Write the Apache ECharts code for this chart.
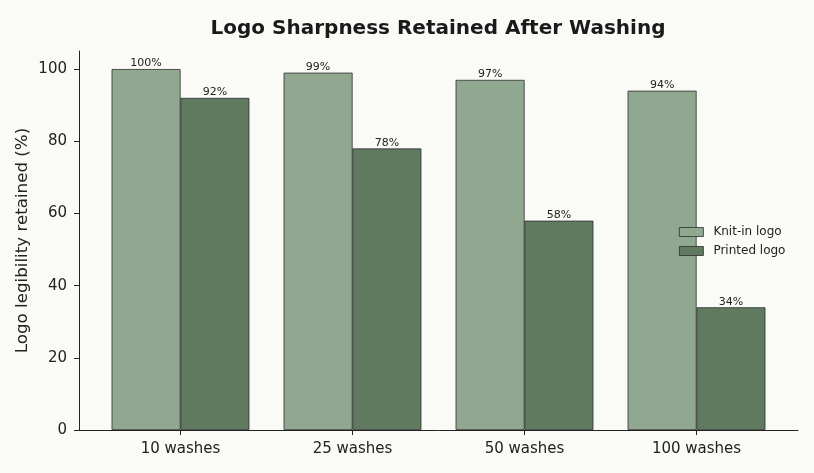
<!DOCTYPE html>
<html>
<head>
<meta charset="utf-8">
<script src="https://cdn.jsdelivr.net/npm/echarts@6/dist/echarts.min.js"></script>
<style>
  html, body { margin: 0; padding: 0; background: #fafaf7; }
  #main { width: 814px; height: 473px; }
</style>
</head>
<body>
<div id="main"></div>
<script>
// data
var categories = ['10 washes', '25 washes', '50 washes', '100 washes'];
var knitIn = [100, 99, 97, 94];
var printed = [92, 78, 58, 34];
var yTicks = [0, 20, 40, 60, 80, 100];

var chart = echarts.init(document.getElementById('main'));
var font = 'DejaVu Sans';

// each group sits at integer x; the two bars sit 0.2 either side
function toPoints(vals, shift) {
    return vals.map(function (v, i) { return [i + shift, v]; });
}

var catIdx = categories.map(function (c, i) { return i; });

function barSeries(name, vals, shift, color) {
    return {
        name: name,
        type: 'bar',
        data: toPoints(vals, shift),
        barWidth: 69,
        barGap: '-100%',
        itemStyle: { color: color, borderColor: '#2e2e2e', borderWidth: 0.8 },
        label: {
            show: true,
            position: 'top',
            distance: 0,
            fontFamily: font,
            fontSize: 11,
            color: '#222',
            formatter: function (p) { return p.value[1] + '%'; }
        }
    };
}

var option = {
    backgroundColor: '#fafaf7',
    animation: false,
    title: {
        text: 'Logo Sharpness Retained After Washing',
        left: 433,
        top: 14,
        textAlign: 'center',
        textStyle: { fontFamily: font, fontSize: 20, fontWeight: 'bold', color: '#1a1a1a' }
    },
    legend: {
        orient: 'vertical',
        left: 674,
        top: 221,
        itemWidth: 24,
        itemHeight: 9,
        itemGap: 7,
        icon: 'rect',
        itemStyle: { borderWidth: 0.8 },
        data: ['Knit-in logo', 'Printed logo'],
        textStyle: { fontFamily: font, fontSize: 12, color: '#222', padding: [0, 0, 0, 5] }
    },
    grid: { left: 79, right: 16, top: 51, bottom: 43 },
    xAxis: {
        type: 'value',
        min: -0.59,
        max: 3.59,
        splitLine: { show: false },
        axisLine: { show: true, onZero: false, lineStyle: { color: '#222', width: 1 } },
        axisTick: { show: true, customValues: catIdx, length: 5, lineStyle: { color: '#222' } },
        axisLabel: {
            customValues: catIdx,
            fontFamily: font,
            fontSize: 15,
            color: '#222',
            margin: 12,
            formatter: function (v) { return categories[Math.round(v)]; }
        }
    },
    yAxis: {
        type: 'value',
        min: 0,
        max: 105,
        interval: 20,
        name: 'Logo legibility retained (%)',
        nameLocation: 'middle',
        nameGap: 48,
        nameMoveOverlap: false,
        nameTextStyle: { fontFamily: font, fontSize: 16.7, color: '#222' },
        splitLine: { show: false },
        axisLine: { show: true, onZero: false, lineStyle: { color: '#222', width: 1 } },
        axisTick: { show: true, customValues: yTicks, length: 5, lineStyle: { color: '#222' } },
        axisLabel: {
            fontFamily: font,
            fontSize: 15,
            color: '#222',
            margin: 12,
            customValues: yTicks
        }
    },
    series: [
        barSeries('Knit-in logo', knitIn, -0.2, '#8fa88f'),
        barSeries('Printed logo', printed, 0.2, '#5f7a5f')
    ]
};

chart.setOption(option);
</script>
</body>
</html>
